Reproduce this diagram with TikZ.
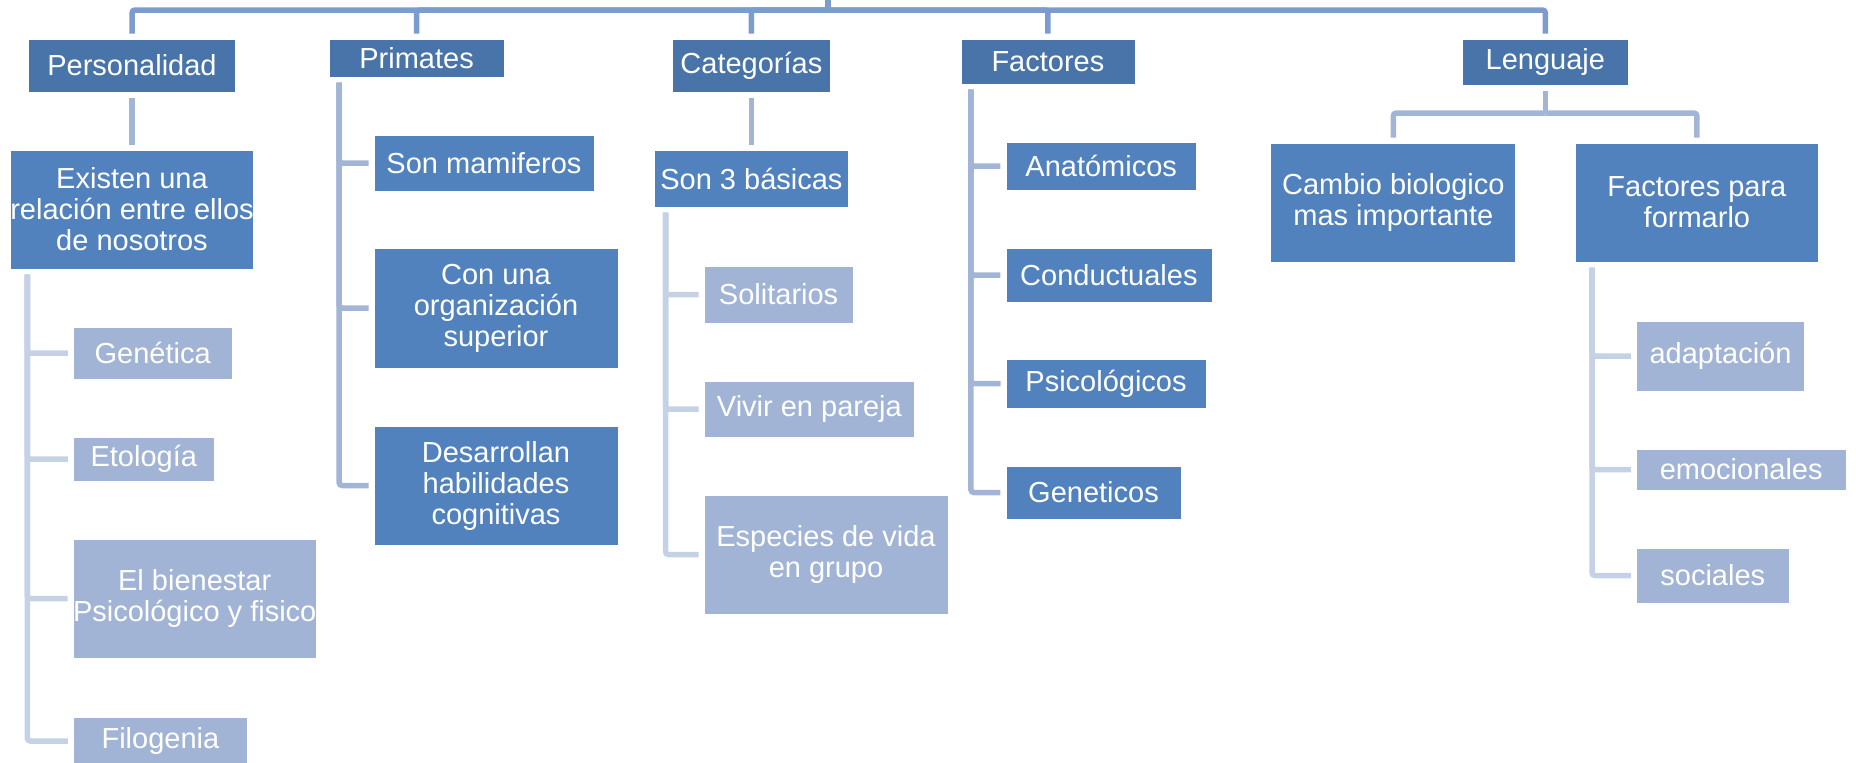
\documentclass[tikz,border=0pt]{standalone}
\usepackage{fontspec}
\setmainfont{Liberation Sans}
\definecolor{cdark}{HTML}{4874AA}
\definecolor{cmid}{HTML}{5182BE}
\definecolor{clight}{HTML}{A2B4D5}
\definecolor{ltop}{HTML}{7C9CCE}
\definecolor{lmid}{HTML}{A3B5D6}
\definecolor{llight}{HTML}{C5D1E5}
\tikzset{
  box/.style={rectangle, inner sep=0pt, outer sep=5.5pt, draw=white, line width=0.8pt,
    text=white, align=center, font=\fontsize{29}{31}\selectfont},
  lvone/.style={box, fill=cdark},
  lvtwo/.style={box, fill=cmid},
  lvthree/.style={box, fill=clight},
  conn/.style={line width=5.5pt, rounded corners=3pt},
  ctop/.style={conn, draw=ltop},
  cmidl/.style={conn, draw=lmid},
  clightl/.style={conn, draw=llight},
}
\newcommand{\bx}[6]{\node[#1, minimum width=#4, minimum height=#5] (#2) at (#3) {#6};}
\begin{document}
\begin{tikzpicture}[x=1pt,y=-1pt]
\useasboundingbox (0,0) rectangle (1856,763);
% level 1
\bx{lvone}{pers}{132,65.5}{207}{53}{Personalidad}
\bx{lvone}{prim}{416.6,58}{175}{38}{Primates}
\bx{lvone}{cat}{751.4,65.5}{158.6}{53}{Categorías}
\bx{lvone}{fac}{1047.9,61.5}{174}{45}{Factores}
\bx{lvone}{leng}{1545.4,62}{166}{46}{Lenguaje}
% level 2
\bx{lvtwo}{exis}{132,209.5}{242.6}{119}{Existen una\\relación entre ellos\\de nosotros}
\bx{lvtwo}{mam}{484,163}{220}{56}{Son mamiferos}
\bx{lvtwo}{org}{496,308}{244}{120}{Con una\\organización\\superior}
\bx{lvtwo}{des}{496,485.5}{244}{119}{Desarrollan\\habilidades\\cognitivas}
\bx{lvtwo}{bas}{751.4,178.5}{194}{57}{Son 3 básicas}
\bx{lvtwo}{ana}{1101.2,166}{190.6}{48}{Anatómicos}
\bx{lvtwo}{con}{1108.9,275}{206}{54}{Conductuales}
\bx{lvtwo}{psi}{1106,383.5}{200}{49}{Psicológicos}
\bx{lvtwo}{gentwo}{1093.5,492.5}{175.2}{53}{Geneticos}
\bx{lvtwo}{camb}{1393.3,202.5}{245}{119}{Cambio biologico\\mas importante}
\bx{lvtwo}{fpf}{1696.9,202.5}{243.8}{119}{Factores para\\formarlo}
% level 3
\bx{lvthree}{gen}{152.7,353}{158.6}{52}{Genética}
\bx{lvthree}{eto}{143.8,459}{140.9}{44}{Etología}
\bx{lvthree}{bien}{194.7,598.5}{242.7}{119}{El bienestar\\Psicológico y fisico}
\bx{lvthree}{filo}{160.4,741}{174}{48}{Filogenia}
\bx{lvthree}{sol}{778.6,294.5}{149.2}{57}{Solitarios}
\bx{lvthree}{viv}{809.4,409}{210.7}{56}{Vivir en pareja}
\bx{lvthree}{esp}{826,554.5}{243.9}{119}{Especies de vida\\en grupo}
\bx{lvthree}{ada}{1720.5,356}{168.1}{70}{adaptación}
\bx{lvthree}{emo}{1741.2,469.5}{209.5}{41}{emocionales}
\bx{lvthree}{soc}{1712.8,575.5}{152.7}{55}{sociales}
% top bar
\coordinate (top) at (828,0);
\coordinate (bar) at (828,10);
\draw[ctop] (top) -- (bar);
\draw[ctop] (bar) -| (pers.north);
\draw[ctop] (bar) -| (prim.north);
\draw[ctop] (bar) -| (cat.north);
\draw[ctop] (bar) -| (fac.north);
\draw[ctop] (bar) -| (leng.north);
% level1 -> level2
\draw[cmidl] (pers.south) -- (exis.north);
\draw[cmidl] (cat.south) -- (bas.north);
\draw[cmidl] ([xshift=15.5pt]prim.south west) |- (mam.west);
\draw[cmidl] ([xshift=15.5pt]prim.south west) |- (org.west);
\draw[cmidl] ([xshift=15.5pt]prim.south west) |- (des.west);
\draw[cmidl] ([xshift=15.5pt]fac.south west) |- (ana.west);
\draw[cmidl] ([xshift=15.5pt]fac.south west) |- (con.west);
\draw[cmidl] ([xshift=15.5pt]fac.south west) |- (psi.west);
\draw[cmidl] ([xshift=15.5pt]fac.south west) |- (gentwo.west);
\coordinate (lj) at (1545.4,113);
\draw[cmidl] (leng.south) -- (lj);
\draw[cmidl] (lj) -| (camb.north);
\draw[cmidl] (lj) -| (fpf.north);
% level2 -> level3
\draw[clightl] ([xshift=22.5pt]exis.south west) |- (gen.west);
\draw[clightl] ([xshift=22.5pt]exis.south west) |- (eto.west);
\draw[clightl] ([xshift=22.5pt]exis.south west) |- (bien.west);
\draw[clightl] ([xshift=22.5pt]exis.south west) |- (filo.west);
\draw[clightl] ([xshift=16.6pt]bas.south west) |- (sol.west);
\draw[clightl] ([xshift=16.6pt]bas.south west) |- (viv.west);
\draw[clightl] ([xshift=16.6pt]bas.south west) |- (esp.west);
\draw[clightl] ([xshift=22.5pt]fpf.south west) |- (ada.west);
\draw[clightl] ([xshift=22.5pt]fpf.south west) |- (emo.west);
\draw[clightl] ([xshift=22.5pt]fpf.south west) |- (soc.west);
\end{tikzpicture}
\end{document}
